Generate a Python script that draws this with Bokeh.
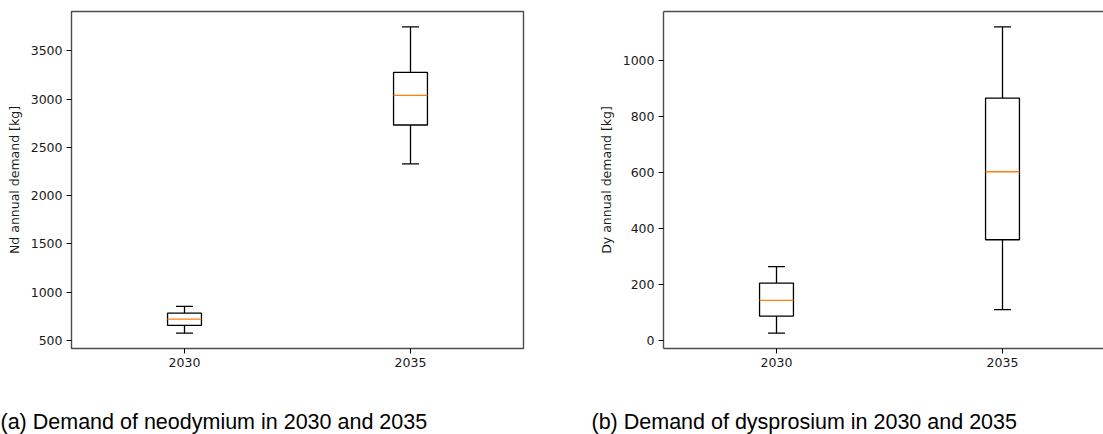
from bokeh.plotting import figure
from bokeh.models import Range1d, FixedTicker, LinearAxis, Title
from bokeh.layouts import row
from bokeh.embed import file_html
from bokeh.resources import INLINE

# ---- data ----
years = ["2030", "2035"]

nd_low = [575, 2328]
nd_q1 = [655, 2731]
nd_median = [720, 3038]
nd_q3 = [782, 3276]
nd_high = [852, 3748]

dy_low = [26, 110]
dy_q1 = [87, 360]
dy_median = [143, 603]
dy_q3 = [205, 866]
dy_high = [264, 1121]

nd_ticks = [500, 1000, 1500, 2000, 2500, 3000, 3500]
dy_ticks = [0, 200, 400, 600, 800, 1000]

nd_label = "Nd annual demand [kg]"
dy_label = "Dy annual demand [kg]"
caption_a = "(a) Demand of neodymium in 2030 and 2035"
caption_b = "(b) Demand of dysprosium in 2030 and 2035"

FRAME_COLOR = "#4d4d4d"
TICK_FONT = "DejaVu Sans"
TICK_SIZE = "12.5px"


def panel(low, q1, med, q3, high, ticks, ylabel, caption, border_left,
          frame_w, full_w, caption_dx, clip_right):
    n = len(years)
    pos = [i + 1 for i in range(n)]
    lo = min(low)
    hi = max(high)
    m = 0.05 * (hi - lo)
    x_end = 0.5 + n * frame_w / full_w
    p = figure(
        frame_width=frame_w, frame_height=337,
        min_border_left=border_left, min_border_top=11,
        min_border_bottom=0,
        min_border_right=0 if clip_right else 38,
        x_range=Range1d(0.5, x_end), y_range=Range1d(lo - m, hi + m),
        toolbar_location=None, output_backend="svg",
        x_axis_location=None, y_axis_location=None,
    )
    p.grid.visible = False
    p.background_fill_color = "white"
    p.border_fill_color = "white"

    xa = LinearAxis(ticker=FixedTicker(ticks=pos),
                    major_label_overrides={pos[i]: years[i] for i in range(n)})
    ya = LinearAxis(ticker=FixedTicker(ticks=ticks), axis_label=ylabel)
    for ax in (xa, ya):
        ax.minor_tick_line_color = None
        ax.major_tick_out = 5
        ax.major_tick_in = 0
        ax.major_tick_line_color = "black"
        ax.major_tick_line_width = 1
        ax.major_label_text_font = TICK_FONT
        ax.major_label_text_font_size = TICK_SIZE
        ax.major_label_text_color = "#1a1a1a"
        ax.major_label_standoff = 4
        ax.axis_line_color = FRAME_COLOR if clip_right else None
        ax.axis_line_width = 1.4
    ya.axis_label_text_font = TICK_FONT
    ya.axis_label_text_font_size = TICK_SIZE
    ya.axis_label_text_font_style = "normal"
    ya.axis_label_text_color = "#1a1a1a"
    ya.axis_label_standoff = 6
    p.add_layout(xa, "below")
    p.add_layout(ya, "left")

    if clip_right:
        p.outline_line_color = None
        top = LinearAxis(ticker=FixedTicker(ticks=[]))
        top.axis_line_color = FRAME_COLOR
        top.axis_line_width = 1.4
        top.major_tick_line_color = None
        top.minor_tick_line_color = None
        top.major_label_text_font_size = "0px"
        p.add_layout(top, "above")
    else:
        p.outline_line_color = FRAME_COLOR
        p.outline_line_width = 1.4

    bw = 0.15
    cw = 0.075
    lw = 1.3
    # whiskers
    p.segment(x0=pos, y0=low, x1=pos, y1=q1, line_color="black", line_width=lw)
    p.segment(x0=pos, y0=q3, x1=pos, y1=high, line_color="black", line_width=lw)
    # caps
    p.segment(x0=[x - cw / 2 for x in pos], y0=low, x1=[x + cw / 2 for x in pos], y1=low,
              line_color="black", line_width=lw)
    p.segment(x0=[x - cw / 2 for x in pos], y0=high, x1=[x + cw / 2 for x in pos], y1=high,
              line_color="black", line_width=lw)
    # boxes
    p.quad(left=[x - bw / 2 for x in pos], right=[x + bw / 2 for x in pos],
           bottom=q1, top=q3, fill_color="white", line_color="black", line_width=lw)
    # medians
    p.segment(x0=[x - bw / 2 for x in pos], y0=med, x1=[x + bw / 2 for x in pos], y1=med,
              line_color="#ff7f0e", line_width=lw)

    p.add_layout(Title(text=caption, align="left", offset=caption_dx,
                       text_font="Liberation Sans", text_font_size="21.5px",
                       text_font_style="normal", text_color="black",
                       standoff=76), "below")
    return p


left = panel(nd_low, nd_q1, nd_median, nd_q3, nd_high, nd_ticks, nd_label, caption_a,
             border_left=71, frame_w=452, full_w=452, caption_dx=-71, clip_right=False)
right = panel(dy_low, dy_q1, dy_median, dy_q3, dy_high, dy_ticks, dy_label, caption_b,
              border_left=102, frame_w=441, full_w=452, caption_dx=-72, clip_right=True)

layout = row(left, right)
with open("out.html", "w") as f:
    f.write(file_html(layout, INLINE))
